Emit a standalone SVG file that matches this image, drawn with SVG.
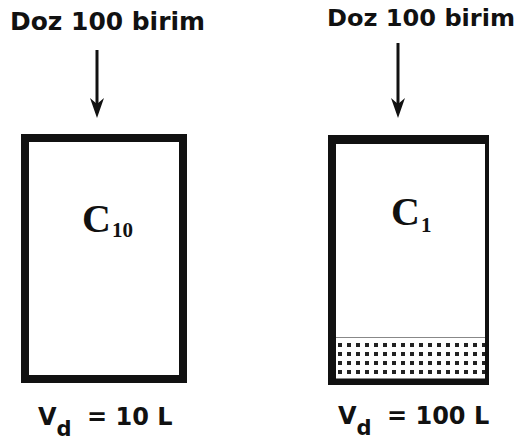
<svg xmlns="http://www.w3.org/2000/svg" width="518" height="441" viewBox="0 0 518 441">
<style>
.lbl{font-family:"DejaVu Sans",Verdana,sans-serif;font-weight:bold;fill:#111;}
.c{font-family:"Liberation Serif","Times New Roman",serif;font-weight:bold;fill:#111;}
.box{fill:#fff;stroke:#111;}
.arr{stroke:#111;stroke-width:3;fill:none;}
.head{fill:#111;}
.wall{fill:#111;}
</style>
<defs>
<pattern id="dots" x="338" y="343" width="9" height="9" patternUnits="userSpaceOnUse">
<rect x="0" y="0" width="4" height="4" fill="#222"/>
</pattern>
</defs>
<g id="label-left"><text class="lbl" x="10" y="30" font-size="24" textLength="195" lengthAdjust="spacingAndGlyphs">Doz 100 birim</text></g>
<g id="label-right"><text class="lbl" x="327" y="26" font-size="23.5" textLength="188" lengthAdjust="spacingAndGlyphs">Doz 100 birim</text></g>
<g id="connectors">
<line class="arr" x1="97" y1="50" x2="97" y2="104"/>
<path class="head" d="M90,98 L97,104 L104,98 L97,118 Z"/>
<line class="arr" x1="398" y1="43" x2="398" y2="104"/>
<path class="head" d="M391,98 L398,104 L405,98 L398,118 Z"/>
</g>
<g id="compartment-left">
<rect class="box" x="25" y="138" width="158" height="241" stroke-width="8"/>
<text class="c" x="82" y="232" font-size="40">C<tspan font-size="21" dy="5" dx="1">10</tspan></text>
</g>
<g id="compartment-right">
<rect x="336" y="339" width="150" height="40" fill="url(#dots)"/>
<line x1="336" y1="337.5" x2="486" y2="337.5" stroke="#888" stroke-width="1"/>
<rect class="wall" x="328" y="135" width="161" height="9"/>
<rect class="wall" x="328" y="135" width="8" height="250"/>
<rect class="wall" x="485" y="135" width="4" height="250"/>
<rect class="wall" x="328" y="378.5" width="161" height="6.5"/>
<text class="c" x="391" y="225" font-size="40">C<tspan font-size="21" dy="7" dx="1">1</tspan></text>
</g>
<g id="vd-left"><text class="lbl" x="38" y="425" font-size="24">V<tspan font-size="21" dy="11">d</tspan><tspan dy="-11" x="87">= 10 L</tspan></text></g>
<g id="vd-right"><text class="lbl" x="338" y="424" font-size="24">V<tspan font-size="21" dy="11">d</tspan><tspan dy="-11" x="387">= 100 L</tspan></text></g>
</svg>
